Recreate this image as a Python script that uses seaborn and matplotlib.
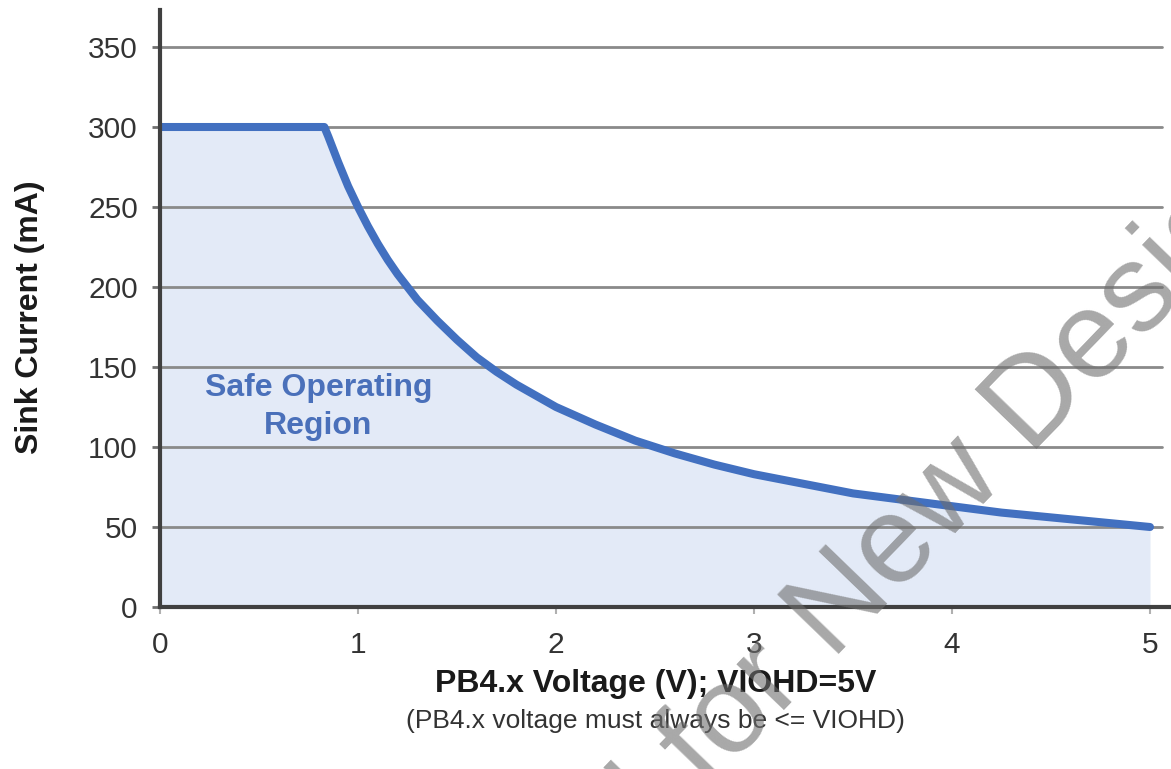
import matplotlib
matplotlib.use("Agg")
import matplotlib.pyplot as plt
import seaborn as sns
import pandas as pd

# Data
voltage = [0.0, 0.83, 0.85, 0.9, 0.95, 1.0, 1.05, 1.1, 1.15, 1.2, 1.3, 1.4, 1.5,
           1.6, 1.7, 1.8, 1.9, 2.0, 2.2, 2.4, 2.6, 2.8, 3.0, 3.25, 3.5, 3.75,
           4.0, 4.25, 4.5, 4.75, 5.0]
current = [300, 300, 294, 278, 263, 250, 238, 227, 217, 208, 192, 179, 167,
           156, 147, 139, 132, 125, 114, 104, 96, 89, 83, 77, 71, 67,
           63, 59, 56, 53, 50]
x_ticks = [0, 1, 2, 3, 4, 5]
y_ticks = [0, 50, 100, 150, 200, 250, 300, 350]

sns.set_theme(style="white")
plt.rcParams['font.family'] = ['Liberation Sans', 'DejaVu Sans']

W, H = 1171, 769
fig = plt.figure(figsize=(W / 100, H / 100), dpi=100)
ax = fig.add_axes([160 / W, 1 - 607 / H, (W - 160) / W, (607 - 10) / H])

df = pd.DataFrame({"V": voltage, "I": current})
ax.fill_between(df["V"], 0, df["I"], color="#e3eaf7", zorder=1, linewidth=0)
sns.lineplot(data=df, x="V", y="I", ax=ax, color="#4270c0", linewidth=5.8,
             estimator=None, sort=False, zorder=3)

ax.set_xlim(0, (W - 160) / 198.0)
ax.set_ylim(0, (607 - 10) / 1.6)
ax.set_xticks(x_ticks)
ax.set_yticks(y_ticks)
ax.set_xticklabels([str(t) for t in x_ticks])
ax.set_yticklabels([str(t) for t in y_ticks])

for y in y_ticks[1:]:
    ax.axhline(y, xmin=0, xmax=(1162 - 160) / (W - 160), color="#8a8a8a",
               linewidth=2.0, zorder=2)

for s in ["top", "right"]:
    ax.spines[s].set_visible(False)
for s in ["left", "bottom"]:
    ax.spines[s].set_color("#404040")
    ax.spines[s].set_linewidth(3.0)
    ax.spines[s].set_zorder(4)

ax.tick_params(axis="y", which="major", left=True, length=6, width=2,
               color="#707070", labelsize=21.5, labelcolor="#333333", pad=10)
ax.tick_params(axis="x", which="major", bottom=True, length=5, width=1.5,
               color="#b0b0b0", labelsize=21.5, labelcolor="#333333", pad=12)

ax.set_xlabel("")
ax.set_ylabel("")

fig.text(30 / W, 1 - 317 / H, "Sink Current (mA)", rotation=90, fontsize=23,
         fontweight="bold", color="#1a1a1a", ha="center", va="center")
fig.text(656 / W, 1 - 684 / H, "PB4.x Voltage (V); VIOHD=5V", fontsize=23,
         fontweight="bold", color="#1a1a1a", ha="center", va="center")
fig.text(655 / W, 1 - 721 / H, "(PB4.x voltage must always be <= VIOHD)",
         fontsize=19, color="#333333", ha="center", va="center")

ax.text(0.80, 125.0, "Safe Operating\nRegion", fontsize=23, fontweight="bold",
        color="#4a70ba", ha="center", va="center", linespacing=1.35, zorder=5)

# watermark
wm = dict(transform=None, rotation=46, rotation_mode="anchor",
          va="baseline", fontsize=90, color="#6e6e6e", alpha=0.6, zorder=10)
fig.text(832, 108, "New Designs", ha="left", **wm)
fig.text(832 - 24, 108 - 25, "Not Recommended for", ha="right", **wm)

fig.savefig("out.png", dpi=100)
